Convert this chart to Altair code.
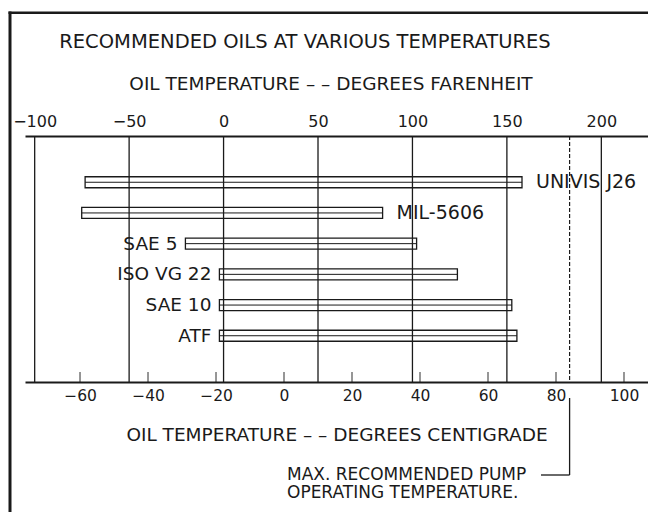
import altair as alt
import pandas as pd

# ---- data ----
oils = ["UNIVIS J26", "MIL-5606", "SAE 5", "ISO VG 22", "SAE 10", "ATF"]
low_c = [-58.5, -59.5, -29, -19, -19, -19]
high_c = [70, 29, 39, 51, 67, 68.5]
label_side = ["right", "right", "left", "left", "left", "left"]

c_ticks = [-60, -40, -20, 0, 20, 40, 60, 80, 100]
f_ticks = [-100, -50, 0, 50, 100, 150, 200]
max_pump_c = 84

title = "RECOMMENDED OILS AT VARIOUS TEMPERATURES"
f_title = "OIL TEMPERATURE – – DEGREES FARENHEIT"
c_title = "OIL TEMPERATURE – – DEGREES CENTIGRADE"
note_lines = ["MAX. RECOMMENDED PUMP", "OPERATING TEMPERATURE."]

# ---- layout ----
W, H = 623, 246
C_DOM = [-76.18, 107.06]
F_DOM = [C_DOM[0] * 1.8 + 32, C_DOM[1] * 1.8 + 32]
FONT = "DejaVu Sans"
INK = "#1a1a1a"

bars = pd.DataFrame({"oil": oils, "lo": low_c, "hi": high_c,
                     "side": label_side, "idx": list(range(len(oils)))})
cdf = pd.DataFrame({"c": c_ticks})
fdf = pd.DataFrame({"f": f_ticks})
pump = pd.DataFrame({"c": [max_pump_c]})
one = pd.DataFrame({"k": [0]})

xC = alt.Scale(domain=C_DOM, nice=False, zero=False)
xF = alt.Scale(domain=F_DOM, nice=False, zero=False)
yS = alt.Scale(domain=[-1.34375, 6.34375], reverse=True)

c_axis_def = alt.Axis(
    orient="bottom", values=c_ticks, ticks=False, grid=False, title=None,
    domainColor=INK, domainWidth=1.8, labelFont=FONT, labelFontSize=15.5,
    labelColor=INK, labelPadding=6)


def X(field):
    return alt.X(field, scale=xC, axis=c_axis_def)


Y = alt.Y("idx:Q", scale=yS, axis=None)

# bottom (Celsius) axis: short ticks pointing up into the plot
c_axis = alt.Chart(cdf).mark_tick(color=INK, thickness=1.3, size=10,
                                  orient="vertical").encode(
    x=X("c:Q"), y=alt.value(H - 5))

# bars
bar_box = alt.Chart(bars).mark_bar(size=11, fillOpacity=0, stroke=INK,
                                   strokeWidth=1.3).encode(
    x=X("lo:Q"), x2="hi:Q", y=Y)
bar_mid = alt.Chart(bars).mark_rule(color=INK, strokeWidth=1).encode(
    x=X("lo:Q"), x2="hi:Q", y=Y)

lab_r = alt.Chart(bars).transform_filter("datum.side == 'right'").mark_text(
    align="left", baseline="middle", dx=14, font=FONT, fontSize=19,
    color=INK).encode(x=X("hi:Q"), y=Y, text="oil:N")
lab_l = alt.Chart(bars).transform_filter("datum.side == 'left'").mark_text(
    align="right", baseline="middle", dx=-8, font=FONT, fontSize=18.5,
    color=INK).encode(x=X("lo:Q"), y=Y, text="oil:N")

# max pump temperature line and leader
pump_line = alt.Chart(pump).mark_rule(color=INK, strokeWidth=1.2,
                                      strokeDash=[4, 2]).encode(x=X("c:Q"))
pump_lead = alt.Chart(pump).mark_rule(color=INK, strokeWidth=1.3).encode(
    x=X("c:Q"), y=alt.value(262), y2=alt.value(339))
pump_lead_h = alt.Chart(pump).mark_rule(color=INK, strokeWidth=1.3).encode(
    x=X("c:Q"), x2=alt.value(516), y=alt.value(339))


# text annotations
def txt(s, x, y, size, align="center"):
    return alt.Chart(pd.DataFrame({"t": [s]})).mark_text(
        align=align, baseline="middle", font=FONT, fontSize=size,
        color=INK).encode(x=alt.value(x), y=alt.value(y), text="t:N")


t_main = txt(title, 280, -94, 19.5)
t_f = txt(f_title, 306, -52, 18.5)
t_c = txt(c_title, 312, 299, 18.5)
t_n1 = txt(note_lines[0], 262, 339, 17, "left")
t_n2 = txt(note_lines[1], 262, 357, 17, "left")

# frame: left and top edges of the drawing border, as thin filled strips
frame_l = alt.Chart(one).mark_rect(color=INK, strokeWidth=0).encode(
    x=alt.value(-16.5), x2=alt.value(-13.5),
    y=alt.value(-124.5), y2=alt.value(H + 130))
frame_t = alt.Chart(one).mark_rect(color=INK, strokeWidth=0).encode(
    x=alt.value(-16.5), x2=alt.value(W),
    y=alt.value(-124.5), y2=alt.value(-122))

base = alt.layer(c_axis, bar_box, bar_mid, lab_r, lab_l, pump_line,
                 pump_lead, pump_lead_h, t_main, t_f, t_c, t_n1, t_n2,
                 frame_l, frame_t)

# top (Fahrenheit) axis with full-height grid lines
f_grid = alt.Chart(fdf).mark_rule(color=INK, strokeWidth=1.3).encode(
    x=alt.X("f:Q", scale=xF, axis=alt.Axis(
        orient="top", values=f_ticks, ticks=False, grid=False, title=None,
        domainColor=INK, domainWidth=1.8, labelFont=FONT, labelFontSize=16,
        labelColor=INK, labelPadding=7)))

chart = alt.layer(base, f_grid).resolve_scale(x="independent").properties(
    width=W, height=H,
    autosize=alt.AutoSizeParams(type="none"),
    padding={"left": 17, "top": 128, "right": 0, "bottom": 130},
    background="white",
).configure_view(stroke=None)

chart.save("out.html", embed_options={"renderer": "svg", "actions": False})
